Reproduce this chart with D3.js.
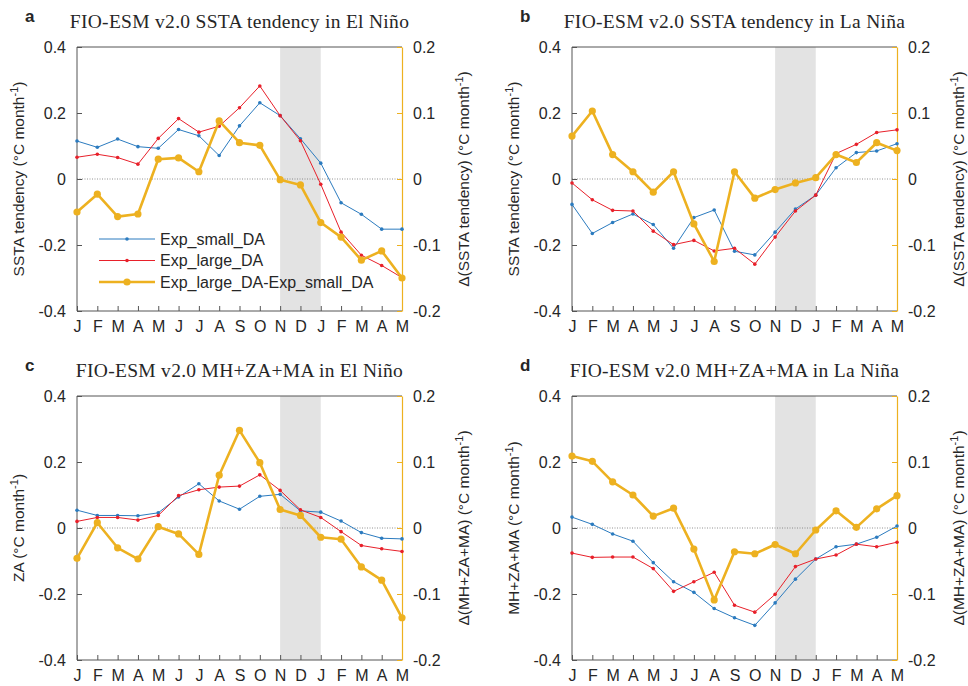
<!DOCTYPE html>
<html>
<head>
<meta charset="utf-8">
<script src="https://cdn.jsdelivr.net/npm/d3@7"></script>
<style>
  body { margin: 0; background: #fff; }
  svg { display: block; }
  text { font-family: "Liberation Sans", Arial, sans-serif; fill: #262626; }
  .title { font-family: "Liberation Serif", "DejaVu Serif", serif; }
</style>
</head>
<body>
<svg id="chart" width="968" height="686"></svg>
<script>
// Monate (Juni Jahr 0 .. Mai Jahr 1)
const months = ['J','F','M','A','M','J','J','A','S','O','N','D','J','F','M','A','M'];
const leftTicks = [-0.4, -0.2, 0, 0.2, 0.4];
const leftTickLabels = ['-0.4', '-0.2', '0', '0.2', '0.4'];
const rightTicks = [-0.2, -0.1, 0, 0.1, 0.2];
const rightTickLabels = ['-0.2', '-0.1', '0', '0.1', '0.2'];
const shadeMonths = [10, 12]; // N .. J

const seriesNames = ['Exp_small_DA', 'Exp_large_DA', 'Exp_large_DA-Exp_small_DA'];

// a: SSTA tendency, El Niño
const aSmall = [0.115, 0.096, 0.121, 0.098, 0.093, 0.150, 0.131, 0.071, 0.161, 0.231, 0.192, 0.122, 0.048, -0.072, -0.107, -0.152, -0.152];
const aLarge = [0.066, 0.075, 0.065, 0.045, 0.123, 0.183, 0.142, 0.160, 0.216, 0.282, 0.192, 0.116, -0.016, -0.161, -0.231, -0.262, -0.299];
const aDiff  = [-0.050, -0.023, -0.057, -0.053, 0.030, 0.032, 0.011, 0.088, 0.055, 0.051, -0.001, -0.009, -0.066, -0.088, -0.123, -0.109, -0.150];

// b: SSTA tendency, La Niña
const bSmall = [-0.077, -0.165, -0.132, -0.106, -0.138, -0.210, -0.117, -0.094, -0.219, -0.230, -0.161, -0.091, -0.049, 0.034, 0.080, 0.085, 0.107];
const bLarge = [-0.012, -0.063, -0.095, -0.097, -0.158, -0.199, -0.186, -0.218, -0.210, -0.258, -0.176, -0.097, -0.049, 0.077, 0.105, 0.141, 0.149];
const bDiff  = [0.065, 0.103, 0.037, 0.011, -0.020, 0.011, -0.068, -0.125, 0.011, -0.029, -0.016, -0.006, 0.002, 0.037, 0.025, 0.055, 0.043];

// c: MH+ZA+MA, El Niño
const cSmall = [0.054, 0.038, 0.038, 0.037, 0.046, 0.094, 0.134, 0.082, 0.057, 0.096, 0.102, 0.052, 0.048, 0.021, -0.014, -0.031, -0.033];
const cLarge = [0.020, 0.032, 0.032, 0.024, 0.038, 0.098, 0.116, 0.124, 0.127, 0.161, 0.114, 0.055, 0.032, -0.011, -0.053, -0.063, -0.071];
const cDiff  = [-0.046, 0.008, -0.030, -0.047, 0.002, -0.009, -0.040, 0.080, 0.148, 0.099, 0.028, 0.019, -0.014, -0.017, -0.059, -0.079, -0.136];

// d: MH+ZA+MA, La Niña
const dSmall = [0.033, 0.011, -0.018, -0.040, -0.105, -0.163, -0.195, -0.244, -0.272, -0.295, -0.227, -0.155, -0.094, -0.057, -0.049, -0.028, 0.006];
const dLarge = [-0.076, -0.089, -0.088, -0.088, -0.123, -0.192, -0.163, -0.134, -0.234, -0.255, -0.201, -0.117, -0.094, -0.082, -0.049, -0.057, -0.043];
const dDiff  = [0.109, 0.101, 0.070, 0.050, 0.018, 0.030, -0.032, -0.109, -0.036, -0.039, -0.025, -0.039, -0.003, 0.026, 0.001, 0.029, 0.049];

const colSmall = '#2b7bbf';
const colLarge = '#e8202a';
const colDiff = '#edb120';
const axisCol = '#555';

const panels = [
  { letter: 'a', title: 'FIO-ESM v2.0 SSTA tendency in El Niño', yl: 'SSTA tendency', yr: 'Δ(SSTA tendency)',
    small: aSmall, large: aLarge, diff: aDiff, x0: 77, y0: 47, legend: true },
  { letter: 'b', title: 'FIO-ESM v2.0 SSTA tendency in La Niña', yl: 'SSTA tendency', yr: 'Δ(SSTA tendency)',
    small: bSmall, large: bLarge, diff: bDiff, x0: 572, y0: 47 },
  { letter: 'c', title: 'FIO-ESM v2.0 MH+ZA+MA in El Niño', yl: 'ZA', yr: 'Δ(MH+ZA+MA)',
    small: cSmall, large: cLarge, diff: cDiff, x0: 77, y0: 396 },
  { letter: 'd', title: 'FIO-ESM v2.0 MH+ZA+MA in La Niña', yl: 'MH+ZA+MA', yr: 'Δ(MH+ZA+MA)',
    small: dSmall, large: dLarge, diff: dDiff, x0: 572, y0: 396 }
];

const W = 325, H = 264;
const svg = d3.select('#chart');

panels.forEach(p => {
  const g = svg.append('g').attr('transform', `translate(${p.x0},${p.y0})`);
  const x = d3.scaleLinear().domain([0, months.length - 1]).range([0, W]);
  const yL = d3.scaleLinear().domain([-0.4, 0.4]).range([H, 0]);
  const yR = d3.scaleLinear().domain([-0.2, 0.2]).range([H, 0]);

  // graue Schattierung N-D-J
  g.append('rect')
    .attr('x', x(shadeMonths[0])).attr('y', 0)
    .attr('width', x(shadeMonths[1]) - x(shadeMonths[0])).attr('height', H)
    .attr('fill', '#e3e3e3');

  // Nulllinie gepunktet
  g.append('line')
    .attr('x1', 0).attr('x2', W).attr('y1', yL(0)).attr('y2', yL(0))
    .attr('stroke', '#777').attr('stroke-width', 0.8).attr('stroke-dasharray', '1,1.5');

  // Rahmen: oben, links, unten
  g.append('path')
    .attr('d', `M${W},0H0V${H}H${W}`)
    .attr('fill', 'none').attr('stroke', axisCol).attr('stroke-width', 1);

  // linke Achse (Ticks nach innen)
  const left = g.append('g').call(d3.axisLeft(yL).tickValues(leftTicks)
    .tickFormat((d, i) => leftTickLabels[i]).tickSizeInner(-5).tickSizeOuter(0).tickPadding(11));
  left.select('.domain').remove();
  left.selectAll('line').attr('stroke', axisCol);
  left.selectAll('text').style('font-size', '16px').attr('fill', '#262626')
    .style('font-family', '"Liberation Sans", Arial, sans-serif');

  // untere Achse mit Monaten
  const bottom = g.append('g').attr('transform', `translate(0,${H})`)
    .call(d3.axisBottom(x).tickValues(d3.range(months.length))
      .tickFormat(i => months[i]).tickSizeInner(-5).tickSizeOuter(0).tickPadding(10));
  bottom.select('.domain').remove();
  bottom.selectAll('line').attr('stroke', axisCol);
  bottom.selectAll('text').style('font-size', '16px').attr('fill', '#262626')
    .style('font-family', '"Liberation Sans", Arial, sans-serif');

  // rechte Achse (orange)
  const right = g.append('g').attr('transform', `translate(${W},0)`)
    .call(d3.axisRight(yR).tickValues(rightTicks)
      .tickFormat((d, i) => rightTickLabels[i]).tickSizeInner(-5).tickSizeOuter(0).tickPadding(11));
  right.select('.domain').attr('stroke', colDiff).attr('stroke-width', 1.2);
  right.selectAll('line').attr('stroke', colDiff);
  right.selectAll('text').style('font-size', '16px').attr('fill', colDiff)
    .style('font-family', '"Liberation Sans", Arial, sans-serif');

  // Linien zeichnen
  const lineL = d3.line().x((d, i) => x(i)).y(d => yL(d));
  const lineR = d3.line().x((d, i) => x(i)).y(d => yR(d));

  const drawSeries = (vals, gen, yS, col, lw, r) => {
    g.append('path').datum(vals).attr('d', gen)
      .attr('fill', 'none').attr('stroke', col).attr('stroke-width', lw)
      .attr('stroke-linejoin', 'round');
    g.selectAll(null).data(vals).enter().append('circle')
      .attr('cx', (d, i) => x(i)).attr('cy', d => yS(d)).attr('r', r).attr('fill', col);
  };
  drawSeries(p.small, lineL, yL, colSmall, 1, 1.8);
  drawSeries(p.large, lineL, yL, colLarge, 1, 1.8);
  drawSeries(p.diff, lineR, yR, colDiff, 2.6, 3.6);

  // Titel und Buchstabe
  svg.append('text').attr('class', 'title')
    .attr('x', p.x0 + W / 2).attr('y', p.y0 - 19)
    .attr('text-anchor', 'middle').style('font-size', '19.5px').style('letter-spacing', '0.3px')
    .attr('fill', '#111')
    .text(p.title);
  svg.append('text')
    .attr('x', p.x0 - 52).attr('y', p.y0 - 25)
    .style('font-size', '17px').style('font-weight', 'bold').attr('fill', '#000')
    .text(p.letter);

  // Achsentitel links
  const tl = svg.append('text')
    .attr('transform', `translate(${p.x0 - 53},${p.y0 + H / 2}) rotate(-90)`)
    .attr('text-anchor', 'middle').style('font-size', '15.5px').attr('fill', '#111');
  tl.append('tspan').text(`${p.yl} (°C month`);
  tl.append('tspan').attr('dy', -6).style('font-size', '11px').text('-1');
  tl.append('tspan').attr('dy', 6).text(')');

  // Achsentitel rechts
  const tr = svg.append('text')
    .attr('transform', `translate(${p.x0 + W + 67},${p.y0 + H / 2}) rotate(-90)`)
    .attr('text-anchor', 'middle').style('font-size', '15.5px').attr('fill', '#111');
  tr.append('tspan').text(`${p.yr} (°C month`);
  tr.append('tspan').attr('dy', -6).style('font-size', '11px').text('-1');
  tr.append('tspan').attr('dy', 6).text(')');

  // Legende nur in Panel a
  if (p.legend) {
    const styles = [
      { col: colSmall, lw: 1, r: 1.8 },
      { col: colLarge, lw: 1, r: 1.8 },
      { col: colDiff, lw: 2.6, r: 3.6 }
    ];
    seriesNames.forEach((name, i) => {
      const ly = 192 + i * 21.5;
      const s = styles[i];
      g.append('line').attr('x1', 22).attr('x2', 78).attr('y1', ly).attr('y2', ly)
        .attr('stroke', s.col).attr('stroke-width', s.lw);
      g.append('circle').attr('cx', 50).attr('cy', ly).attr('r', s.r).attr('fill', s.col);
      g.append('text').attr('x', 83).attr('y', ly + 5.5)
        .style('font-size', '16px').attr('fill', '#111').text(name);
    });
  }
});
</script>
</body>
</html>
